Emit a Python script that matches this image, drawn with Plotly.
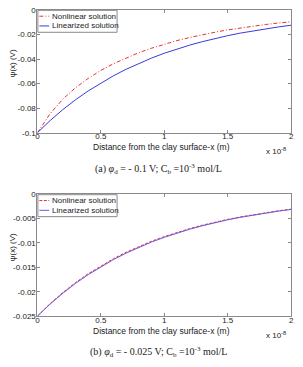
import plotly.graph_objects as go

# distance in units of 1e-8 m
x_vals = [0, 0.1, 0.2, 0.3, 0.4, 0.5, 0.6, 0.7, 0.8, 0.9, 1.0,
          1.1, 1.2, 1.3, 1.4, 1.5, 1.6, 1.7, 1.8, 1.9, 2.0]

# (a) phi_d = -0.1 V
a_nonlinear = [-0.1000, -0.0845, -0.0727, -0.0634, -0.0558, -0.0493, -0.0438,
               -0.0390, -0.0348, -0.0312, -0.0279, -0.0250, -0.0225, -0.0202,
               -0.0182, -0.0163, -0.0147, -0.0132, -0.0119, -0.0107, -0.0097]
a_linear = [-0.1000, -0.0901, -0.0812, -0.0732, -0.0660, -0.0595, -0.0536,
            -0.0483, -0.0435, -0.0392, -0.0353, -0.0319, -0.0287, -0.0259,
            -0.0233, -0.0210, -0.0189, -0.0171, -0.0154, -0.0139, -0.0125]

# (b) phi_d = -0.025 V
b_nonlinear = [-0.02500, -0.02244, -0.02017, -0.01813, -0.01631, -0.01467,
               -0.01321, -0.01189, -0.01071, -0.00964, -0.00869, -0.00783,
               -0.00705, -0.00635, -0.00572, -0.00515, -0.00465, -0.00419,
               -0.00377, -0.00340, -0.00306]
b_linear = [-0.02500, -0.02253, -0.02031, -0.01830, -0.01649, -0.01486,
            -0.01340, -0.01207, -0.01088, -0.00980, -0.00884, -0.00796,
            -0.00718, -0.00647, -0.00583, -0.00525, -0.00474, -0.00427,
            -0.00385, -0.00347, -0.00312]

x_ticks = [0, 0.5, 1, 1.5, 2]
x_ticklabels = ["0", "0.5", "1", "1.5", "2"]
a_yticks = [0, -0.02, -0.04, -0.06, -0.08, -0.1]
a_yticklabels = ["0", "-0.02", "-0.04", "-0.06", "-0.08", "-0.1"]
b_yticks = [0, -0.005, -0.01, -0.015, -0.02, -0.025]
b_yticklabels = ["0", "-0.005", "-0.01", "-0.015", "-0.02", "-0.025"]

series_names = ["Nonlinear solution", "Linearized solution"]
x_title = "Distance from the clay surface-x (m)"
y_title = "\u03c8(x) (V)"
captions = ["(a) <i>\u03c6</i><sub>d</sub> = - 0.1 V; C<sub>b</sub> =10<sup>-3</sup> mol/L",
            "(b) <i>\u03c6</i><sub>d</sub> = - 0.025 V; C<sub>b</sub> =10<sup>-3</sup> mol/L"]

W, H = 303, 367
RED = "#e8312f"
BLUE = "#3a3ad8"
PURPLE = "#6a5ae0"
AX = "#8a8a8a"
TXT = "#222222"
FONT = "Liberation Sans, Arial, sans-serif"
DASHDOT = "4px,2px,1px,2px"
DASH = "3px,1.5px"

def px(xp):
    return xp / W

def py(yp):
    return 1 - yp / H

# plot area in pixels
X0, X1 = 36, 294
TOP = (6, 132)
BOT = (195, 320)

fig = go.Figure()
fig.add_trace(go.Scatter(x=x_vals, y=a_nonlinear, mode="lines", name=series_names[0],
                         line=dict(color=RED, width=1, dash=DASHDOT),
                         xaxis="x", yaxis="y", showlegend=False))
fig.add_trace(go.Scatter(x=x_vals, y=a_linear, mode="lines", name=series_names[1],
                         line=dict(color=BLUE, width=1),
                         xaxis="x", yaxis="y", showlegend=False))
fig.add_trace(go.Scatter(x=x_vals, y=b_nonlinear, mode="lines", name=series_names[0],
                         line=dict(color=RED, width=1, dash=DASH),
                         xaxis="x2", yaxis="y2", showlegend=False))
fig.add_trace(go.Scatter(x=x_vals, y=b_linear, mode="lines", name=series_names[1],
                         line=dict(color=PURPLE, width=1),
                         xaxis="x2", yaxis="y2", showlegend=False))

axis_common = dict(showline=True, mirror="allticks", linecolor=AX, linewidth=1,
                   ticks="inside", ticklen=3, tickcolor=AX, showgrid=False,
                   zeroline=False, tickfont=dict(family=FONT, size=8, color=TXT))

fig.update_layout(
    width=W, height=H, margin=dict(l=0, r=0, t=0, b=0),
    paper_bgcolor="white", plot_bgcolor="white",
    xaxis=dict(domain=[px(X0), px(X1)], range=[0, 2], anchor="y",
               tickvals=x_ticks, ticktext=x_ticklabels, ticklabelstandoff=-4,
               **axis_common),
    yaxis=dict(domain=[py(TOP[1]), py(TOP[0])], range=[-0.1, 0], anchor="x",
               tickvals=a_yticks, ticktext=a_yticklabels, ticklabelstandoff=-1,
               **axis_common),
    xaxis2=dict(domain=[px(X0), px(X1)], range=[0, 2], anchor="y2",
                tickvals=x_ticks, ticktext=x_ticklabels, ticklabelstandoff=-4,
                **axis_common),
    yaxis2=dict(domain=[py(BOT[1]), py(BOT[0])], range=[-0.025, 0], anchor="x2",
                tickvals=b_yticks, ticktext=b_yticklabels, ticklabelstandoff=-1,
                **axis_common),
)

ann = []
shapes = []
for (yt, yb), cap, dashes, lincol in [(TOP, captions[0], DASHDOT, BLUE),
                                     (BOT, captions[1], DASH, PURPLE)]:
    # x title
    ann.append(dict(x=px((X0 + X1) / 2 - 3), y=py(yb + 15), xref="paper", yref="paper",
                    text=x_title, showarrow=False, xanchor="center", yanchor="middle",
                    font=dict(family=FONT, size=8.5, color=TXT)))
    # exponent
    ann.append(dict(x=px(291), y=py(yb + 19), xref="paper", yref="paper",
                    text="x 10<sup>-8</sup>", showarrow=False, xanchor="right", yanchor="middle",
                    font=dict(family=FONT, size=8, color=TXT)))
    # y title
    ann.append(dict(x=px(11), y=py((yt + yb) / 2 - 8), xref="paper", yref="paper",
                    text=y_title, showarrow=False, textangle=-90, xanchor="center",
                    yanchor="middle", font=dict(family=FONT, size=8, color=TXT)))
    # caption
    ann.append(dict(x=px(159), y=py(yb + 37), xref="paper", yref="paper",
                    text=cap, showarrow=False, xanchor="center", yanchor="middle",
                    font=dict(family="Liberation Serif, Times New Roman, serif", size=10,
                              color=TXT)))
    # legend box
    shapes.append(dict(type="rect", xref="paper", yref="paper",
                       x0=px(X0 + 0.5), x1=px(117), y0=py(yt + 23), y1=py(yt + 0.5),
                       line=dict(color=AX, width=1), fillcolor="white"))
    for i, (name, col, dsh) in enumerate([(series_names[0], RED, dashes),
                                          (series_names[1], lincol, "solid")]):
        yy = yt + 6.5 + i * 10
        shapes.append(dict(type="line", xref="paper", yref="paper",
                           x0=px(38), x1=px(48), y0=py(yy), y1=py(yy),
                           line=dict(color=col, width=1, dash=dsh)))
        ann.append(dict(x=px(48.5), y=py(yy), xref="paper", yref="paper",
                        text=name, showarrow=False, xanchor="left", yanchor="middle",
                        font=dict(family=FONT, size=8, color=TXT)))

fig.update_layout(annotations=ann, shapes=shapes)
fig.write_html("out.html")
